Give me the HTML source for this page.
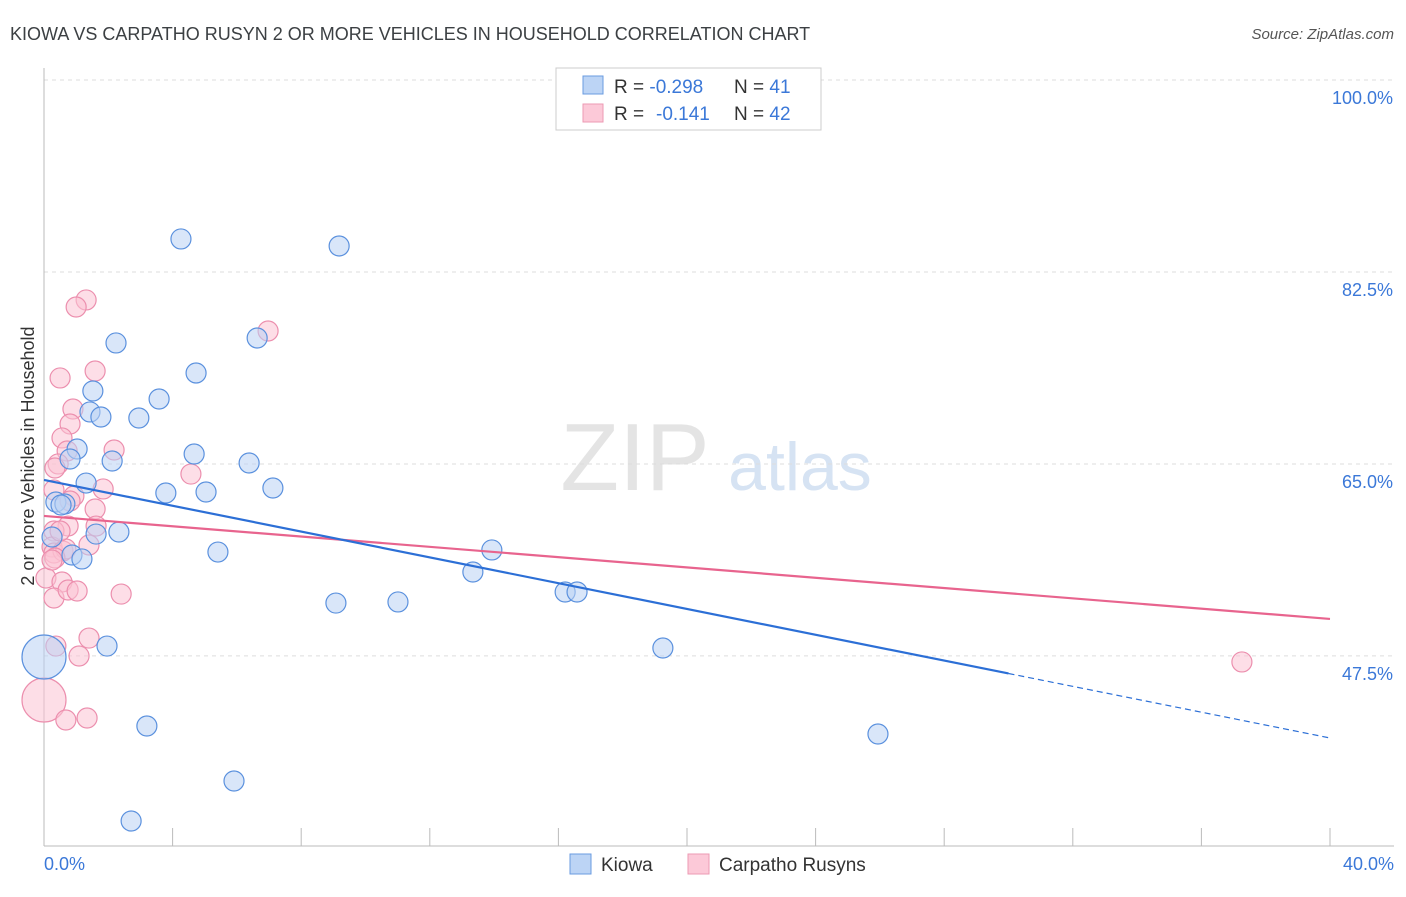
<!DOCTYPE html>
<html><head><meta charset="utf-8"><style>
body{margin:0;background:#fff;font-family:"Liberation Sans",sans-serif}
svg text{font-family:"Liberation Sans",sans-serif}
</style></head><body>
<svg id="c" width="1406" height="892" xmlns="http://www.w3.org/2000/svg">
<text x="10" y="40" font-size="18" fill="#3c4043">KIOWA VS CARPATHO RUSYN 2 OR MORE VEHICLES IN HOUSEHOLD CORRELATION CHART</text>
<text x="1394" y="39" font-size="15" fill="#555" font-style="italic" text-anchor="end">Source: ZipAtlas.com</text>
<text x="635" y="490" font-size="96" fill="#e4e4e4" font-family="Liberation Serif" text-anchor="middle">ZIP</text>
<text x="800" y="490" font-size="68" fill="#d6e3f3" text-anchor="middle">atlas</text>
<g id="grid"></g>
<line x1="44" y1="68" x2="44" y2="846" stroke="#bbb"/>
<line x1="44" y1="846" x2="1394" y2="846" stroke="#bbb"/>
<text transform="translate(34,456) rotate(-90)" font-size="18" fill="#333" text-anchor="middle">2 or more Vehicles in Household</text>
<text x="44" y="870" font-size="18" fill="#3b78d8">0.0%</text>
<text x="1394" y="870" font-size="18" fill="#3b78d8" text-anchor="end">40.0%</text>
<g id="marks"></g>
<g>
<rect x="556" y="68" width="265" height="62" fill="#fff" stroke="#ccc"/>
<rect x="583" y="76" width="20" height="18" fill="#bcd4f5" stroke="#6a9be0"/>
<rect x="583" y="104" width="20" height="18" fill="#fcc9d8" stroke="#ec9ab3"/>
<text x="614" y="93" font-size="19" fill="#333">R = <tspan fill="#3b78d8">-0.298</tspan><tspan x="734">N = </tspan><tspan fill="#3b78d8">41</tspan></text>
<text x="614" y="120" font-size="19" fill="#333">R = <tspan fill="#3b78d8" x="656">-0.141</tspan><tspan x="734">N = </tspan><tspan fill="#3b78d8">42</tspan></text>
</g>
<g>
<rect x="570" y="854" width="21" height="20" fill="#bcd4f5" stroke="#6a9be0"/>
<text x="601" y="871" font-size="19" fill="#333">Kiowa</text>
<rect x="688" y="854" width="21" height="20" fill="#fcc9d8" stroke="#ec9ab3"/>
<text x="719" y="871" font-size="19" fill="#333">Carpatho Rusyns</text>
</g>
</svg>
<script>
const yTicks=[100,82.5,65,47.5];
const yTickLabels=["100.0%","82.5%","65.0%","47.5%"];
const kiowaPx=[[181,239],[339,246],[116,343],[257,338],[196,373],[93,391],[159,399],[90,412],[101,417],[139,418],[77,449],[70,459],[112,461],[194,454],[249,463],[86,483],[166,493],[206,492],[273,488],[56,502],[65,504],[61,505],[119,532],[96,534],[52,537],[72,555],[82,559],[218,552],[492,550],[473,572],[336,603],[398,602],[565,592],[577,592],[107,646],[663,648],[44,657],[147,726],[878,734],[234,781],[131,821]];
const rusynPx=[[86,300],[76,307],[268,331],[95,371],[60,378],[73,409],[70,424],[62,438],[114,450],[67,451],[58,464],[55,468],[191,474],[54,490],[103,489],[74,496],[70,501],[95,509],[96,526],[68,526],[54,531],[52,547],[54,553],[63,551],[66,549],[89,545],[55,558],[46,578],[62,582],[54,598],[68,590],[77,591],[121,594],[56,646],[89,638],[79,656],[1242,662],[44,700],[66,720],[87,718],[52,560],[60,531]];
// convert read pixel estimates to data values (x %, y %)
const kiowaX=kiowaPx.map(p=>+((p[0]-44)/32.15).toFixed(2));
const kiowaY=kiowaPx.map(p=>+(100-(p[1]-80)/10.97).toFixed(2));
const rusynX=rusynPx.map(p=>+((p[0]-44)/32.15).toFixed(2));
const rusynY=rusynPx.map(p=>+(100-(p[1]-80)/10.97).toFixed(2));
const kiowaBig=[36];const rusynBig=[37];
const kiowaLine=[63.54,40.02];const kiowaSolidEnd=30;
const rusynLine=[60.26,50.87];
const X=v=>44+v*32.15, Y=v=>80+(100-v)*10.97;
const NS="http://www.w3.org/2000/svg";
const grid=document.getElementById('grid'),marks=document.getElementById('marks');
function mk(tag,at,par){const e=document.createElementNS(NS,tag);for(const k in at)e.setAttribute(k,at[k]);par.appendChild(e);return e;}
yTicks.forEach((t,i)=>{
 const l=mk('line',{x1:44,x2:1394,y1:Y(t),y2:Y(t),stroke:'#ddd','stroke-dasharray':'4,4'},grid);
 
 
 const tx=mk('text',{x:1393,y:Y(t)+24,'font-size':18,fill:'#3b78d8','text-anchor':'end'},grid);
 tx.textContent=yTickLabels[i];
 
 
});
for(let i=0;i<=10;i++){
 const l=mk('line',{x1:X(i*4),x2:X(i*4),y1:828,y2:846,stroke:'#bbb'},grid);
 
 
}
function dots(xs,ys,big,fill,stroke,name){
 xs.forEach((x,i)=>{
  const r=big.includes(i)?22:10;
  const c=mk('circle',{cx:X(x),cy:Y(ys[i]),r:r,fill:fill,'fill-opacity':0.55,stroke:stroke,'stroke-width':1.2},marks);
  
  
 });
}
dots(rusynX,rusynY,rusynBig,'#fbc3d4','#ec8fae','rusyn-point');
dots(kiowaX,kiowaY,kiowaBig,'#b9d2f4','#5b91de','kiowa-point');
const ky=x=>kiowaLine[0]+(kiowaLine[1]-kiowaLine[0])*x/40;
const ry=x=>rusynLine[0]+(rusynLine[1]-rusynLine[0])*x/40;
let l=mk('line',{x1:X(0),y1:Y(ry(0)),x2:X(40),y2:Y(ry(40)),stroke:'#e8648e','stroke-width':2.2},marks);


l=mk('line',{x1:X(0),y1:Y(ky(0)),x2:X(kiowaSolidEnd),y2:Y(ky(kiowaSolidEnd)),stroke:'#2c6fd6','stroke-width':2.2},marks);


l=mk('line',{x1:X(kiowaSolidEnd),y1:Y(ky(kiowaSolidEnd)),x2:X(40),y2:Y(ky(40)),stroke:'#2c6fd6','stroke-width':1.2,'stroke-dasharray':'6,4'},marks);


</script>
</body></html>
